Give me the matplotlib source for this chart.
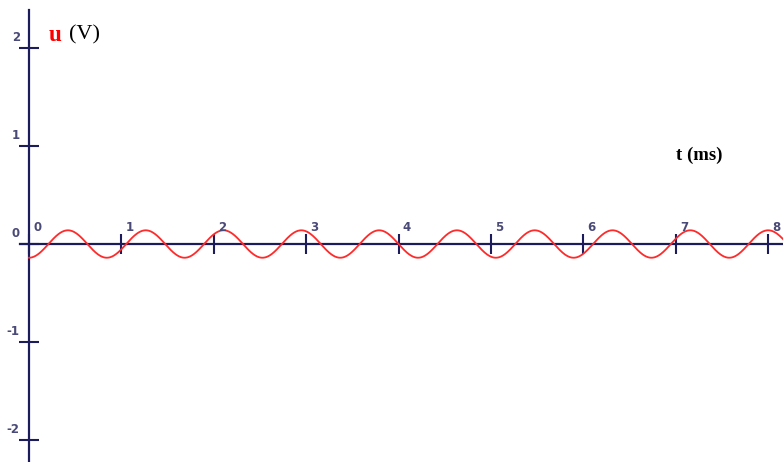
import numpy as np
import matplotlib.pyplot as plt

# signal u(t) = -A cos(2*pi*t/T), t in ms, u in V
amplitude = 0.14
period = 0.842
t_end = 8.2

x_ticks = [0, 1, 2, 3, 4, 5, 6, 7, 8]
y_ticks = [-2, -1, 0, 1, 2]

axis_color = '#1c1c5c'
label_color = '#4a4a78'

t = np.linspace(0, t_end, 3000)
u = -amplitude * np.cos(2 * np.pi * t / period)

fig = plt.figure(figsize=(7.83, 4.62), dpi=100)
ax = fig.add_axes([0, 0, 1, 1])
ax.set_xlim(-0.314, 8.16)
ax.set_ylim(-2.2245, 2.49)

ax.plot(t, u, color='#ff2a2a', lw=1.3, zorder=3)

# axes crossing at the origin
for side in ['top', 'right']:
    ax.spines[side].set_visible(False)
ax.spines['left'].set_position(('data', 0))
ax.spines['bottom'].set_position(('data', 0))
ax.spines['left'].set_bounds(-2.3, 2.39)
ax.spines['bottom'].set_bounds(-0.1, 8.2)
for side in ['left', 'bottom']:
    ax.spines[side].set_color(axis_color)
    ax.spines[side].set_linewidth(1.6)
    ax.spines[side].set_zorder(2)

ax.set_xticks(x_ticks)
ax.set_yticks(y_ticks)
ax.tick_params(direction='inout', length=14, width=1.5, color=axis_color,
               labelbottom=False, labelleft=False)

for v in x_ticks:
    ax.text(v + 0.045, 0.1, str(v), fontsize=8.5, color=label_color,
            fontweight='bold', ha='left', va='bottom')
for v in y_ticks:
    ax.text(-0.1, v + 0.04, str(v), fontsize=8.5, color=label_color,
            fontweight='bold', ha='right', va='bottom')

ax.text(0.21, 2.13, 'u', color='red', fontsize=16.5, fontweight='bold',
        family='Liberation Serif', va='center', ha='left')
ax.text(0.43, 2.13, '(V)', color='black', fontsize=16,
        family='Liberation Serif', va='center', ha='left')
ax.text(7.0, 0.9, 't (ms)', color='black', fontsize=13.5, fontweight='bold',
        family='Liberation Serif', va='center', ha='left')

fig.savefig('out.png', dpi=100)
